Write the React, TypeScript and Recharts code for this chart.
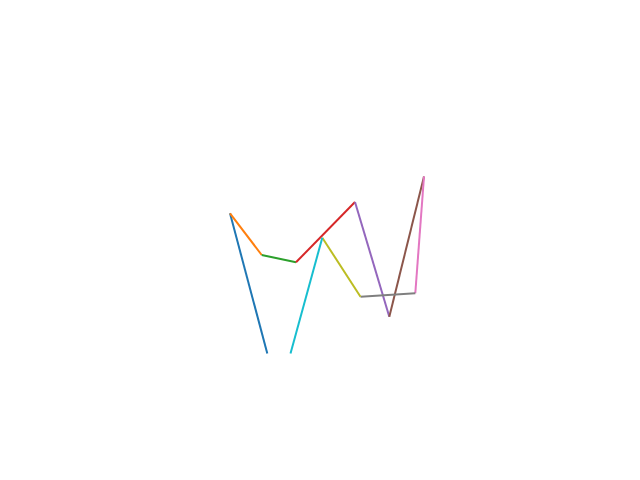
import { Line, LineChart, XAxis, YAxis } from "recharts";

// path vertices (x to the right, y upward)
const xs = [267.3, 230, 261.7, 296, 355, 389.3, 424, 415.3, 360.5, 322.3, 290.5];
const ys = [126.5, 266.7, 225, 217.7, 278, 163.3, 303.5, 186.7, 183.3, 242.3, 126.5];

// one colour per segment (tab10 cycle)
const colors = ["#1f77b4", "#ff7f0e", "#2ca02c", "#d62728", "#9467bd", "#8c564b", "#e377c2", "#7f7f7f", "#bcbd22", "#17becf"];

const segments = colors.map((color, i) => ({
    color,
    data: [
        { x: xs[i], y: ys[i] },
        { x: xs[i + 1], y: ys[i + 1] },
    ],
}));

export default function App() {
    return (
        <div style={{ position: "absolute", left: 0, top: 0, width: 640, height: 480, background: "#fff" }}>
            <LineChart width={640} height={480} margin={{ top: 0, right: 0, bottom: 0, left: 0 }}>
                <XAxis type="number" dataKey="x" domain={[0, 640]} hide allowDataOverflow />
                <YAxis type="number" dataKey="y" domain={[0, 480]} hide allowDataOverflow />
                {segments.map((s, i) => (
                    <Line
                        key={i}
                        data={s.data}
                        dataKey="y"
                        type="linear"
                        stroke={s.color}
                        strokeWidth={2}
                        dot={false}
                        activeDot={false}
                        isAnimationActive={false}
                    />
                ))}
            </LineChart>
        </div>
    );
}
